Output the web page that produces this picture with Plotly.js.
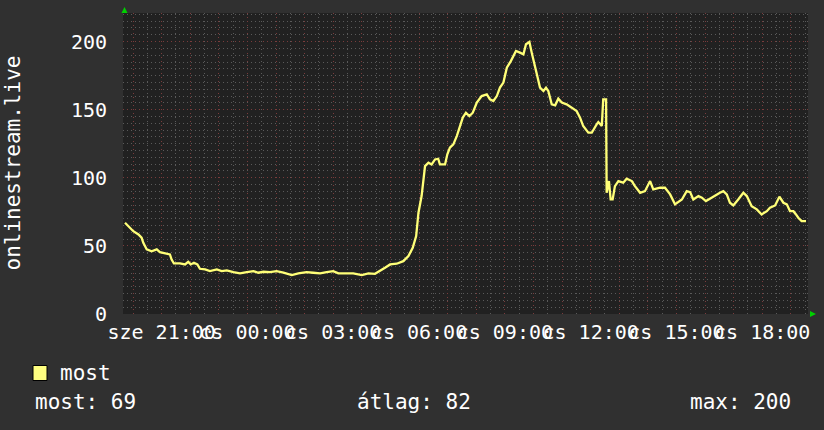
<!DOCTYPE html>
<html>
<head>
<meta charset="utf-8">
<script src="https://cdn.plot.ly/plotly-3.0.1.min.js"></script>
<style>
html,body{margin:0;padding:0;background:#303030;}
#chart{width:824px;height:430px;}
</style>
</head>
<body>
<div id="chart"></div>
<script>
// time in hours counted from sze (Wednesday) 00:00
const hours = [19.72,19.84,20.01,20.19,20.30,20.36,20.48,20.65,20.83,20.94,21.18,21.29,21.35,21.43,21.64,21.82,21.93,22.02,22.13,22.25,22.34,22.52,22.69,22.93,23.10,23.28,23.51,23.74,23.98,24.21,24.38,24.56,24.79,25.02,25.26,25.55,25.78,26.07,26.30,26.54,26.77,27.00,27.18,27.47,27.70,28.00,28.23,28.46,28.64,28.81,28.99,29.22,29.45,29.63,29.78,29.90,29.98,30.09,30.21,30.33,30.44,30.56,30.67,30.73,30.91,30.99,31.08,31.20,31.32,31.43,31.53,31.64,31.76,31.88,32.02,32.19,32.37,32.48,32.60,32.72,32.83,32.95,33.07,33.21,33.39,33.53,33.65,33.74,33.86,33.94,34.06,34.14,34.23,34.35,34.44,34.52,34.64,34.76,34.87,34.99,35.16,35.34,35.51,35.63,35.74,35.92,36.04,36.21,36.27,36.39,36.44,36.54,36.56,36.64,36.70,36.77,36.85,36.97,37.14,37.26,37.44,37.55,37.73,37.90,38.08,38.19,38.43,38.60,38.78,38.95,39.07,39.19,39.36,39.48,39.59,39.77,39.89,40.03,40.17,40.31,40.52,40.64,40.76,40.87,40.99,41.16,41.34,41.46,41.63,41.81,41.98,42.16,42.27,42.45,42.60,42.74,42.86,42.97,43.09,43.18,43.26,43.38,43.53];
const most = [67,64.5,60.8,58.4,56,52.3,47.4,46,47.4,45.4,44.2,43.7,40,37.1,37.1,36.4,38.3,36.4,37.6,36.4,33.2,32.7,31.5,32.7,31.5,32,30.7,29.8,30.7,31.5,30.3,31,30.7,31.5,30.3,28.5,29.8,30.7,30.3,29.8,30.7,31.5,29.8,29.8,29.8,28.5,29.8,29.5,31.5,33.9,36.4,36.9,38.8,42.5,48.6,57.2,74.4,86.6,108.6,111.1,109.8,113.5,114,109.8,109.8,117.2,122.1,124.5,130.6,138,144.2,147.8,145.3,147.8,155.2,160,161.3,157.6,156.4,160,166.2,169.9,180.9,185.7,193.1,191.9,190.7,198,199.7,191.9,182.1,173.5,166.2,163.7,166.2,163.7,153.9,153.2,158.1,155.2,153.9,151.5,149,144.2,138,133.1,133.1,139.2,140.9,138,157.6,157.6,89,97.6,84.1,84.1,93.9,97.6,96.4,99.3,97.6,93.9,89,90.2,97.6,91.5,92.7,92.7,87.8,80.5,82.1,84.1,90.2,89.5,84.1,86.6,85.4,82.9,84.6,86.6,89,90.2,87.8,81.7,79.7,84.1,89,86.6,79.2,76.8,73.1,75.5,78,79.7,86.1,81.7,80.5,75.5,75.5,73.1,70.7,68.2,68.2];

const gridHours = [20,21,22,23,24,25,26,27,28,29,30,31,32,33,34,35,36,37,38,39,40,41,42,43];
const labelHours = [21,24,27,30,33,36,39,42];
const labelTexts = ["sze 21:00","cs 00:00","cs 03:00","cs 06:00","cs 09:00","cs 12:00","cs 15:00","cs 18:00"];
const yTicks = [0,50,100,150,200];
const seriesName = "most";
const statLabels = ["most","átlag","max"];
const statValues = [69,82,200];
const axisTitle = "onlinestream.live";

const tickText = gridHours.map(h => { const i = labelHours.indexOf(h); return i >= 0 ? labelTexts[i] : ""; });

const FONT = "DejaVu Sans Mono, monospace";
const lineColor = "#ffff78";

const trace = {
  x: hours, y: most, type: "scatter", mode: "lines",
  name: seriesName,
  line: {color: lineColor, width: 2.3},
  hoverinfo: "skip"
};

const ann = [];
ann.push({text: axisTitle, xref:"paper", yref:"paper", x:0, y:0.5, xshift:-111, textangle:-90,
  showarrow:false, font:{family:FONT, size:21, color:"#ffffff"}, xanchor:"center", yanchor:"middle"});
ann.push({text: seriesName, xref:"paper", yref:"paper", x:0, y:0, xshift:58-123, yshift:-(373-314.5),
  xanchor:"left", yanchor:"middle", showarrow:false, font:{family:FONT, size:21, color:"#ffffff"}});
const statX = [33, 355, 688];
statLabels.forEach((l,i) => {
  ann.push({text: l + ": " + statValues[i], xref:"paper", yref:"paper", x:0, y:0, xshift:statX[i]-123, yshift:-(402-314.5),
    xanchor:"left", yanchor:"middle", showarrow:false, font:{family:FONT, size:21, color:"#ffffff"}});
});

const shapes = [
  {type:"rect", xref:"paper", yref:"paper", xsizemode:"pixel", ysizemode:"pixel", xanchor:0, yanchor:0,
   x0:-90, x1:-76, y0:-51.5, y1:-66.5, fillcolor:"#ffff80", line:{color:"#000000", width:1}},
  {type:"path", xref:"paper", yref:"paper", xsizemode:"pixel", ysizemode:"pixel", xanchor:0, yanchor:1,
   path:"M -1.5 0 L 4.5 0 L 1.5 6 Z", fillcolor:"#00d000", line:{width:0}},
  {type:"path", xref:"paper", yref:"paper", xsizemode:"pixel", ysizemode:"pixel", xanchor:1, yanchor:0,
   path:"M 2 3 L 2 -3 L 8 0 Z", fillcolor:"#00d000", line:{width:0}}
];

const layout = {
  width: 824, height: 430,
  margin: {l:123, r:16, t:13, b:115.5, pad:0},
  paper_bgcolor: "#303030",
  plot_bgcolor: "#212121",
  showlegend: false,
  xaxis: {
    range: [19.65, 43.60],
    tickmode: "array", tickvals: gridHours, ticktext: tickText, tickangle: 0,
    showgrid: true, gridcolor: "#7a3c3c", griddash: "1px,3px", gridwidth: 1,
    minor: {dtick: 0.5, tick0: 0, showgrid: true, gridcolor: "#5a5a5a", griddash: "1px,3px", gridwidth: 1},
    zeroline: false, showline: false, ticks: "",
    tickfont: {family: FONT, size: 20, color: "#ffffff"},
    ticklabelstandoff: 4, fixedrange: true
  },
  yaxis: {
    range: [0, 221],
    tickmode: "array", tickvals: yTicks,
    showgrid: true, gridcolor: "#7a3c3c", griddash: "1px,3px", gridwidth: 1,
    minor: {dtick: 5, tick0: 0, showgrid: true, gridcolor: "#5a5a5a", griddash: "1px,3px", gridwidth: 1},
    zeroline: false, showline: false, ticks: "",
    tickfont: {family: FONT, size: 20, color: "#ffffff"},
    ticklabelstandoff: 15, fixedrange: true
  },
  annotations: ann,
  shapes: shapes
};

Plotly.newPlot("chart", [trace], layout, {staticPlot: true, displayModeBar: false});
</script>
</body>
</html>
